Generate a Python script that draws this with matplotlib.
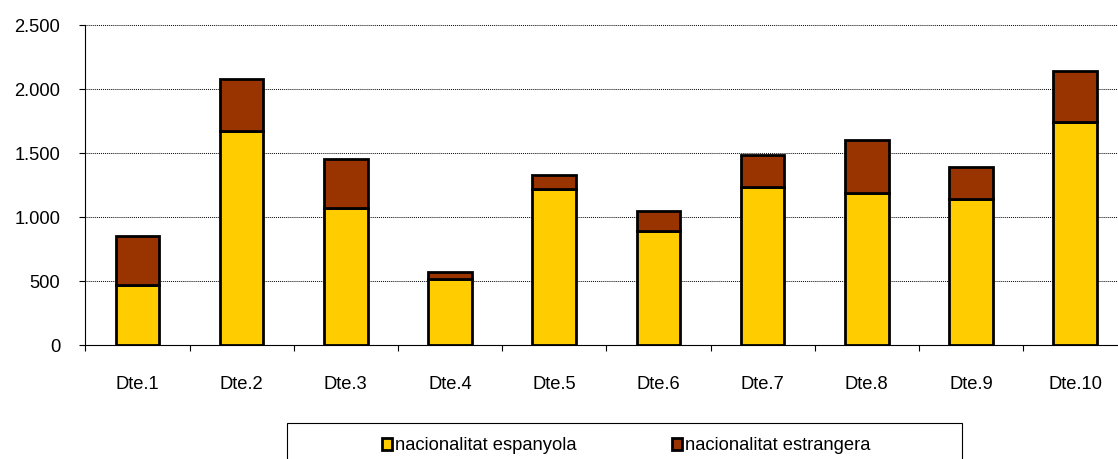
import numpy as np
import matplotlib.pyplot as plt
from matplotlib.patches import Rectangle
from matplotlib.ticker import FuncFormatter

plt.rcParams['font.family'] = ['Liberation Sans', 'DejaVu Sans']

# Data
districtes = ['Dte.1', 'Dte.2', 'Dte.3', 'Dte.4', 'Dte.5',
              'Dte.6', 'Dte.7', 'Dte.8', 'Dte.9', 'Dte.10']
espanyola = [470, 1673, 1069, 514, 1215, 891, 1233, 1186, 1139, 1741]
estrangera = [382, 405, 388, 57, 117, 159, 255, 414, 248, 402]
series_labels = ['nacionalitat espanyola', 'nacionalitat estrangera']
yticks = [0, 500, 1000, 1500, 2000, 2500]

COLOR_ESP = '#FFCC00'
COLOR_EST = '#993300'
FS = 13.2

fig = plt.figure(figsize=(11.18, 4.59), dpi=100)
ax = fig.add_axes([85.3 / 1118, 1 - 345 / 459, 1042 / 1118, 320 / 459])

x = np.arange(len(districtes))
w = 0.42
b1 = ax.bar(x, espanyola, width=w, color=COLOR_ESP, edgecolor='black',
            linewidth=2.0, zorder=3, label=series_labels[0])
b2 = ax.bar(x, estrangera, width=w, bottom=espanyola, color=COLOR_EST,
            edgecolor='black', linewidth=2.0, zorder=3, label=series_labels[1])

ax.set_xlim(-0.5, len(districtes) - 0.5)
ax.set_ylim(0, 2500)

# y axis
ax.set_yticks(yticks)
ax.yaxis.set_major_formatter(FuncFormatter(lambda v, p: f'{int(v):,}'.replace(',', '.')))
ax.tick_params(axis='y', direction='out', length=4, width=0.8, pad=14, labelsize=FS)
ax.grid(axis='y', color='black', linestyle=(0, (1, 1)), linewidth=0.7, zorder=0)

# x axis: labels at centres, tick marks at boundaries
ax.set_xticks(x)
ax.set_xticklabels(districtes)
ax.set_xticks(np.arange(-0.5, len(districtes)), minor=True)
ax.tick_params(axis='x', which='major', length=0, pad=22, labelsize=FS)
ax.tick_params(axis='x', which='minor', direction='out', length=4, width=0.8)

for side in ['top', 'right']:
    ax.spines[side].set_visible(False)
ax.spines['left'].set_linewidth(0.8)
ax.spines['bottom'].set_linewidth(0.8)

# legend box (runs off the bottom of the image)
fig.patches.append(Rectangle((287 / 1118, -0.05), (962 - 287) / 1118, 0.05 + (459 - 423) / 459,
                             transform=fig.transFigure, facecolor='white',
                             edgecolor='black', linewidth=0.8))
fig.legend(handles=[b1, b2], labels=series_labels, loc='center',
           bbox_to_anchor=(626 / 1118, 1 - 446 / 459), ncol=2, frameon=False,
           fontsize=FS, handlelength=0.55, handleheight=0.55, handletextpad=0.15,
           columnspacing=5.2, borderpad=0)

fig.savefig('out.png', dpi=100)
